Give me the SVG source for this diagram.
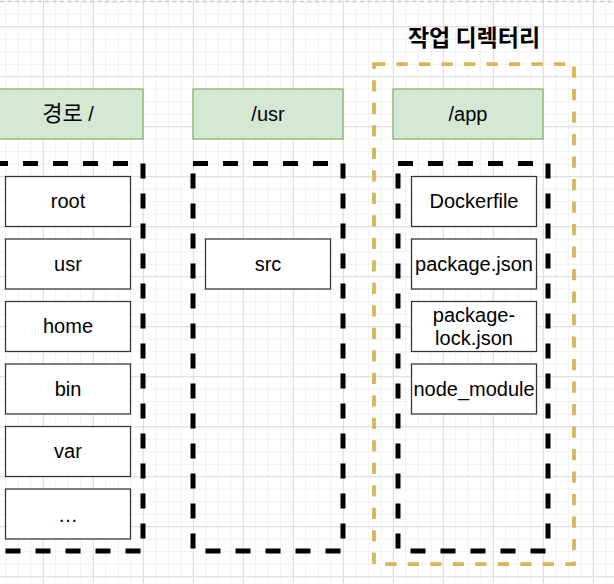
<svg xmlns="http://www.w3.org/2000/svg" width="614" height="584" viewBox="0 0 614 584">
  <defs>
    <pattern id="gridMinor" x="42.8" y="26.2" width="12.5" height="12.5" patternUnits="userSpaceOnUse">
      <rect x="0" y="0" width="12.5" height="1" fill="#f0f0f0"/>
      <rect x="0" y="0" width="1" height="12.5" fill="#f0f0f0"/>
    </pattern>
    <pattern id="gridMajor" x="42.8" y="26.2" width="50" height="50" patternUnits="userSpaceOnUse">
      <rect x="0" y="0" width="50" height="1" fill="#dcdcdc"/>
      <rect x="0" y="0" width="1" height="50" fill="#dcdcdc"/>
    </pattern>
  </defs>
  <style>
    .lbl { font-family: "Liberation Sans", "Noto Sans CJK KR", Arial, sans-serif; font-size: 20px; fill: #000000; text-anchor: middle; }
    .ko { font-family: "Noto Sans CJK KR", sans-serif; font-size: 22px; }
    .title { font-family: "Noto Sans CJK KR", "Liberation Sans", sans-serif; font-size: 23px; font-weight: bold; fill: #000000; text-anchor: middle; }
    .hdr { fill: #d5e8d4; stroke: #82b366; stroke-width: 1.25; }
    .item { fill: #ffffff; stroke: #333333; stroke-width: 1.25; }
    .cont { fill: none; stroke: #000000; stroke-width: 5; stroke-dasharray: 15 15; }
    .work { fill: none; stroke: #d6b656; stroke-width: 3.75; stroke-dasharray: 11.25 11.25; }
  </style>

  <g id="background">
    <rect x="0" y="0" width="614" height="584" fill="#ffffff"/>
    <rect x="0" y="0" width="614" height="584" fill="url(#gridMinor)"/>
    <rect x="0" y="0" width="614" height="584" fill="url(#gridMajor)"/>
    <line x1="0" y1="1.5" x2="614" y2="1.5" stroke="#c8c8c8" stroke-width="1.5" stroke-dasharray="4 3.5"/>
  </g>

  <g id="connectors"></g>

  <g id="work-dir">
    <rect class="work" x="374" y="64" width="200" height="500"/>
    <text class="title" x="474" y="45.5">작업 디렉터리</text>
  </g>

  <g id="root-column">
    <rect class="hdr" x="-7" y="89" width="150" height="50"/>
    <text class="lbl" x="68" y="120.5"><tspan class="ko">경로</tspan> /</text>
    <rect class="cont" x="-7" y="163.5" width="150" height="387.5"/>
  </g>
  <g id="node-root"><rect class="item" x="5.5" y="176.5" width="125" height="50"/><text class="lbl" x="68" y="208">root</text></g>
  <g id="node-usr"><rect class="item" x="5.5" y="239" width="125" height="50"/><text class="lbl" x="68" y="270.5">usr</text></g>
  <g id="node-home"><rect class="item" x="5.5" y="301.5" width="125" height="50"/><text class="lbl" x="68" y="333">home</text></g>
  <g id="node-bin"><rect class="item" x="5.5" y="364" width="125" height="50"/><text class="lbl" x="68" y="395.5">bin</text></g>
  <g id="node-var"><rect class="item" x="5.5" y="426.5" width="125" height="50"/><text class="lbl" x="68" y="458">var</text></g>
  <g id="node-etc"><rect class="item" x="5.5" y="489" width="125" height="50"/><text class="lbl" x="68" y="522" letter-spacing="0">…</text></g>

  <g id="usr-column">
    <rect class="hdr" x="193" y="89" width="150" height="50"/>
    <text class="lbl" x="268" y="120.5">/usr</text>
    <rect class="cont" x="193" y="163.5" width="150" height="387.5"/>
  </g>
  <g id="node-src"><rect class="item" x="205.5" y="239" width="125" height="50"/><text class="lbl" x="268" y="270.5">src</text></g>

  <g id="app-column">
    <rect class="hdr" x="393" y="89" width="150" height="50"/>
    <text class="lbl" x="468" y="120.5">/app</text>
    <rect class="cont" x="398" y="163.5" width="150" height="387.5"/>
  </g>
  <g id="node-dockerfile"><rect class="item" x="411.5" y="176.5" width="125" height="50"/><text class="lbl" x="474" y="208">Dockerfile</text></g>
  <g id="node-package-json"><rect class="item" x="411.5" y="239" width="125" height="50"/><text class="lbl" x="474" y="270.5">package.json</text></g>
  <g id="node-package-lock"><rect class="item" x="411.5" y="301.5" width="125" height="50"/><text class="lbl" x="474" y="322.3">package-</text><text class="lbl" x="474" y="345.3">lock.json</text></g>
  <g id="node-node-module"><rect class="item" x="411.5" y="364" width="125" height="50"/><text class="lbl" x="474" y="395.5">node_module</text></g>
</svg>
